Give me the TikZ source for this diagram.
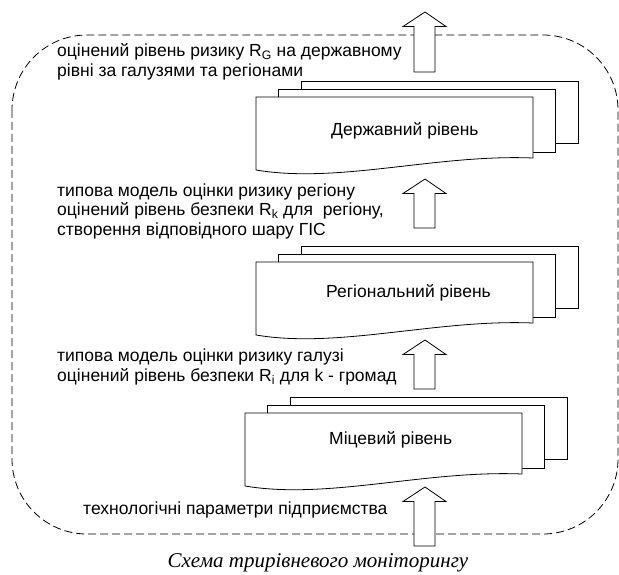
\documentclass[tikz,border=0pt]{standalone}
\usepackage{fontspec}
\setmainfont{Liberation Sans}
\newfontfamily\capfont{Liberation Serif}
\tikzset{
  frame/.style={draw, dashed, dash pattern=on 8pt off 4pt, rounded corners=75pt, line width=0.8pt},
  layer/.style={draw, fill=white, line width=0.8pt},
  blockarrow/.style={draw, fill=white, line width=0.8pt},
  txt/.style={inner sep=0pt, anchor=west, align=left, font=\fontsize{17.5}{19.5}\selectfont},
  lvl/.style={inner sep=0pt, anchor=west, font=\fontsize{17.5}{19.5}\selectfont},
  captext/.style={inner sep=0pt, font=\capfont\itshape\fontsize{21}{24}\selectfont}
}
\newcommand{\docstack}[2]{%
  \path[layer] (#1+45,#2-16) rectangle (#1+45+277,#2+46);
  \path[layer] (#1+22,#2-8) rectangle (#1+22+277,#2+55);
  \path[layer] (#1,#2) -- (#1+277,#2) -- (#1+277,#2+61)
     .. controls (#1+180,#2+57) and (#1+83,#2+87) .. (#1,#2+73) -- cycle;
}
\newcommand{\uparrowblock}[3]{% x-center, tip y, bottom y
  \path[blockarrow] (#1-11,#3) -- (#1-11,#2+14.5) -- (#1-22,#2+14.5) -- (#1,#2)
     -- (#1+21,#2+14.5) -- (#1+10,#2+14.5) -- (#1+10,#3) -- cycle;
}
\begin{document}
\begin{tikzpicture}[x=1pt,y=-1pt]
\useasboundingbox (0,0) rectangle (619,575);
\fill[white] (0,0) rectangle (619,575);
% dashed frame
\draw[frame] (12,35) rectangle (618,534);
% level stacks
\docstack{256}{97}
\docstack{256}{262}
\docstack{245}{413}
\node[lvl] (state) at (331,131) {Державний рівень};
\node[lvl] (region) at (326,293) {Регіональний рівень};
\node[lvl] (local) at (329,440) {Міцевий рівень};
% block arrows
\uparrowblock{425}{12}{72}
\uparrowblock{425}{179}{228}
\uparrowblock{425}{340}{389}
\uparrowblock{425}{487}{546}
% texts
\node[txt] (t1) at (57,62) {оцінений рівень ризику R\textsubscript{G} на державному\\рівні за галузями та регіонами};
\node[txt] (t2) at (57,211) {типова модель оцінки ризику регіону\\оцінений рівень безпеки R\textsubscript{k} для\ \ регіону,\\створення відповідного шару ГІС};
\node[txt] (t3) at (57,367) {типова модель оцінки ризику галузі\\оцінений рівень безпеки R\textsubscript{i} для k - громад};
\node[txt] (t4) at (83,510) {технологічні параметри підприємства};
\node[captext] (caption) at (318,563) {Схема трирівневого моніторингу};
\end{tikzpicture}
\end{document}
